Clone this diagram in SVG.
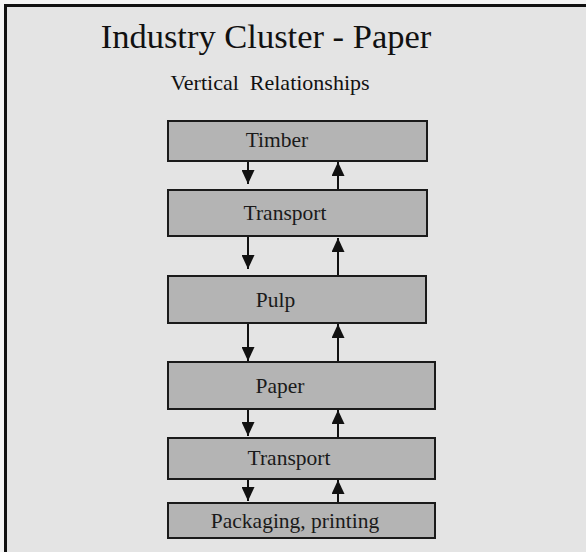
<svg xmlns="http://www.w3.org/2000/svg" width="586" height="552" viewBox="0 0 586 552">
  <style>
    .frame { fill: #e4e4e4; stroke: #111; stroke-width: 3; }
    .box { fill: #b4b4b4; stroke: #1a1a1a; stroke-width: 2; }
    .lbl { font-family: "Liberation Serif", "Times New Roman", serif; font-size: 21.5px; fill: #1a1a1a; text-anchor: middle; }
    .title { font-family: "Liberation Serif", "Times New Roman", serif; fill: #111; text-anchor: middle; }
    .flow { stroke: #111; stroke-width: 2; fill: none; }
  </style>
  <defs>
    <marker id="head" viewBox="0 0 14 13" refX="14" refY="6.5" markerWidth="14" markerHeight="13" markerUnits="userSpaceOnUse" orient="auto">
      <path d="M0,0 L14,6.5 L0,13 Z" fill="#111"/>
    </marker>
  </defs>

  <rect x="0" y="0" width="586" height="552" fill="#f4f4f4"/>
  <rect class="frame" x="5.5" y="5.5" width="600" height="570"/>

  <text class="title" x="266" y="48" font-size="34.5">Industry Cluster - Paper</text>
  <text class="title" x="270" y="90" font-size="22" xml:space="preserve">Vertical  Relationships</text>

  <g id="timber">
    <rect class="box" x="168" y="121" width="259" height="40"/>
    <text class="lbl" x="277" y="147">Timber</text>
  </g>
  <g id="transport1">
    <rect class="box" x="168" y="190" width="259" height="46"/>
    <text class="lbl" x="285" y="220">Transport</text>
  </g>
  <g id="pulp">
    <rect class="box" x="168" y="276" width="258" height="47"/>
    <text class="lbl" x="275.5" y="307">Pulp</text>
  </g>
  <g id="paper">
    <rect class="box" x="168" y="362" width="267" height="47"/>
    <text class="lbl" x="280" y="393">Paper</text>
  </g>
  <g id="transport2">
    <rect class="box" x="168" y="438" width="267" height="41"/>
    <text class="lbl" x="289" y="465">Transport</text>
  </g>
  <g id="packaging">
    <rect class="box" x="168" y="503" width="267" height="35"/>
    <text class="lbl" x="295" y="528">Packaging, printing</text>
  </g>

  <g id="connectors">
    <!-- downward flows -->
    <line class="flow" x1="248" y1="162" x2="248" y2="184" marker-end="url(#head)"/>
    <line class="flow" x1="248" y1="237" x2="248" y2="269" marker-end="url(#head)"/>
    <line class="flow" x1="248" y1="324" x2="248" y2="361" marker-end="url(#head)"/>
    <line class="flow" x1="248" y1="410" x2="248" y2="436" marker-end="url(#head)"/>
    <line class="flow" x1="248" y1="480" x2="248" y2="501" marker-end="url(#head)"/>
    <!-- upward flows -->
    <line class="flow" x1="338" y1="189" x2="338" y2="162" marker-end="url(#head)"/>
    <line class="flow" x1="338" y1="275" x2="338" y2="238" marker-end="url(#head)"/>
    <line class="flow" x1="338" y1="361" x2="338" y2="324" marker-end="url(#head)"/>
    <line class="flow" x1="338" y1="437" x2="338" y2="410" marker-end="url(#head)"/>
    <line class="flow" x1="338" y1="502" x2="338" y2="480" marker-end="url(#head)"/>
  </g>
</svg>
